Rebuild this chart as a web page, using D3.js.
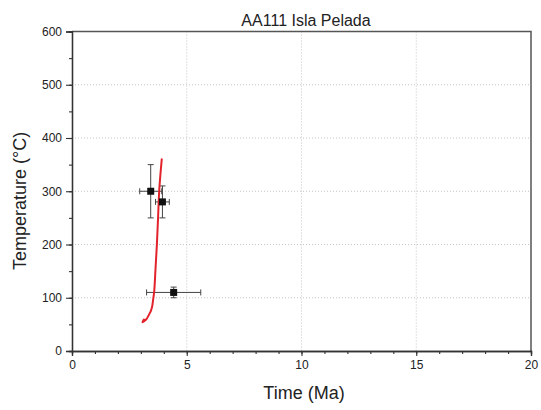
<!DOCTYPE html>
<html>
<head>
<meta charset="utf-8">
<script src="https://cdn.jsdelivr.net/npm/d3@7"></script>
<style>
  html, body { margin: 0; padding: 0; background: #fff; }
  svg { display: block; font-family: "Liberation Sans", Arial, sans-serif; }
</style>
</head>
<body>
<svg id="chart" width="541" height="410"></svg>
<script>
// Sample ages (Ma) and closure temperatures (°C) with uncertainties
const sampleAge = [3.43, 3.94, 4.43];
const sampleAgeErr = [0.48, 0.3, 1.18];
const sampleTemp = [300, 280, 110];
const sampleTempErr = [50, 30, 10];

// Modelled cooling path
const pathAge = [3.91, 3.85, 3.80, 3.75, 3.70, 3.64, 3.58, 3.53, 3.49, 3.44, 3.39, 3.33, 3.26, 3.17, 3.07, 3.13];
const pathTemp = [360, 330, 301, 250, 201, 155, 111, 95, 83, 76, 71, 66, 61, 57, 54, 59];

const xTicks = [0, 5, 10, 15, 20];
const yTicks = [0, 100, 200, 300, 400, 500, 600];

const svg = d3.select("#chart");
const L = 72, R = 531, T = 31.5, B = 351;

const x = d3.scaleLinear().domain([0, 20]).range([L, R]);
const y = d3.scaleLinear().domain([0, 600]).range([B, T]);

// Dotted grid
const grid = svg.append("g").attr("stroke", "#c4c4c4").attr("stroke-width", 1).attr("stroke-dasharray", "1,2");
xTicks.filter(d => d > 0 && d < 20).forEach(d => {
  grid.append("line").attr("x1", x(d)).attr("x2", x(d)).attr("y1", T).attr("y2", B);
});
yTicks.filter(d => d > 0 && d < 600).forEach(d => {
  grid.append("line").attr("x1", L).attr("x2", R).attr("y1", y(d)).attr("y2", y(d));
});

// Frame (top and right)
svg.append("path")
  .attr("d", `M${L},${T}H${R}V${B}`)
  .attr("fill", "none").attr("stroke", "#555").attr("stroke-width", 1.5);

// Axes: major ticks labelled, minor ticks shorter
const xMinor = d3.axisBottom(x).tickValues(d3.range(0, 21, 1)).tickSize(3).tickFormat("");
const yMinor = d3.axisLeft(y).tickValues(d3.range(0, 601, 50)).tickSize(3).tickFormat("");
const xAxis = d3.axisBottom(x).tickValues(xTicks).tickSize(5).tickPadding(4).tickFormat(d3.format("d"));
const yAxis = d3.axisLeft(y).tickValues(yTicks).tickSize(6).tickPadding(4).tickFormat(d3.format("d"));

function style(g) {
  g.select(".domain").attr("stroke", "#333").attr("stroke-width", 1.3);
  g.selectAll(".tick line").attr("stroke", "#333").attr("stroke-width", 1.1);
  g.selectAll(".tick text").attr("fill", "#222").style("font-size", "12px")
    .style("font-family", "'Liberation Sans', Arial, sans-serif");
}
svg.append("g").attr("transform", `translate(0,${B})`).call(xMinor).call(style);
svg.append("g").attr("transform", `translate(${L},0)`).call(yMinor).call(style);
svg.append("g").attr("transform", `translate(0,${B})`).call(xAxis).call(style);
svg.append("g").attr("transform", `translate(${L},0)`).call(yAxis).call(style);

// Error bars
const eb = svg.append("g").attr("stroke", "#444").attr("stroke-width", 1).attr("fill", "none");
const cap = 3;
sampleAge.forEach((a, i) => {
  const cx = x(a), cy = y(sampleTemp[i]);
  const x0 = x(a - sampleAgeErr[i]), x1 = x(a + sampleAgeErr[i]);
  const y0 = y(sampleTemp[i] - sampleTempErr[i]), y1 = y(sampleTemp[i] + sampleTempErr[i]);
  eb.append("path").attr("d",
    `M${x0},${cy}H${x1}M${x0},${cy - cap}V${cy + cap}M${x1},${cy - cap}V${cy + cap}` +
    `M${cx},${y0}V${y1}M${cx - cap},${y0}H${cx + cap}M${cx - cap},${y1}H${cx + cap}`);
});

// Cooling path
const line = d3.line().x((d, i) => x(pathAge[i])).y((d, i) => y(pathTemp[i])).curve(d3.curveCatmullRom.alpha(0.5));
svg.append("path")
  .datum(pathAge)
  .attr("d", line)
  .attr("fill", "none")
  .attr("stroke", "#e3232c")
  .attr("stroke-width", 2)
  .attr("stroke-linejoin", "round")
  .attr("stroke-linecap", "round");

// Sample markers
const s = 7;
svg.append("g").selectAll("rect")
  .data(sampleAge)
  .join("rect")
  .attr("x", d => x(d) - s / 2)
  .attr("y", (d, i) => y(sampleTemp[i]) - s / 2)
  .attr("width", s).attr("height", s)
  .attr("fill", "#111");

// Titles
svg.append("text").attr("x", 306).attr("y", 26).attr("text-anchor", "middle")
  .style("font-size", "16px").attr("fill", "#222").text("AA111 Isla Pelada");
svg.append("text").attr("x", 304).attr("y", 399).attr("text-anchor", "middle")
  .style("font-size", "18px").attr("fill", "#222").text("Time (Ma)");
svg.append("text").attr("transform", "translate(26,201) rotate(-90)").attr("text-anchor", "middle")
  .style("font-size", "18px").attr("fill", "#222").text("Temperature (°C)");
</script>
</body>
</html>
